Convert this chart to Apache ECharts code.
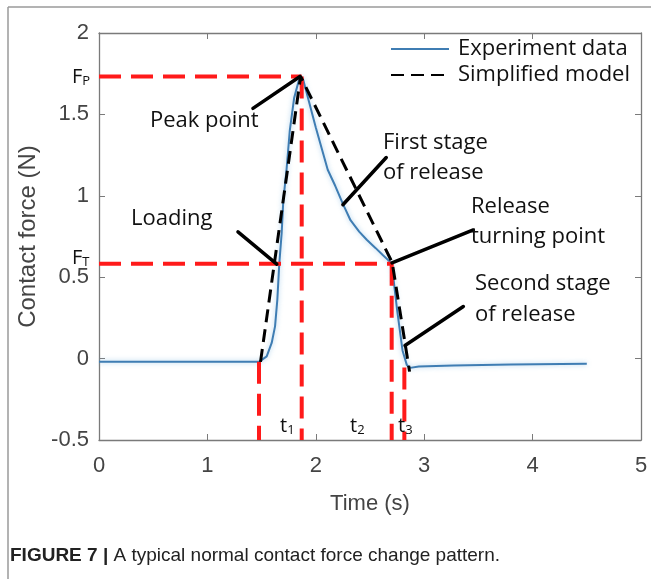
<!DOCTYPE html>
<html>
<head>
<meta charset="utf-8">
<script src="https://cdn.jsdelivr.net/npm/echarts@6/dist/echarts.min.js"></script>
<style>
  html, body { margin: 0; padding: 0; background: #fff; }
  #chart { width: 651px; height: 579px; }
</style>
</head>
<body>
<div id="chart"></div>
<script>
// measured experiment curve (time s, force N)
var expData = [
  [0, -0.02], [0.5, -0.02], [1.0, -0.02], [1.476, -0.02],
  [1.547, 0.014], [1.593, 0.096], [1.624, 0.198], [1.645, 0.361], [1.663, 0.582],
  [1.685, 0.77], [1.70, 0.97], [1.73, 1.16], [1.76, 1.40], [1.80, 1.60], [1.84, 1.70], [1.86, 1.733],
  [1.885, 1.71], [2.0, 1.42], [2.11, 1.16], [2.18, 1.06], [2.25, 0.95], [2.32, 0.85],
  [2.40, 0.78], [2.47, 0.73], [2.55, 0.68], [2.62, 0.635], [2.70, 0.585],
  [2.75, 0.30], [2.80, 0.05], [2.84, -0.04], [2.87, -0.057], [2.95, -0.048],
  [3.27, -0.043], [3.8, -0.036], [4.5, -0.032]
];
// simplified piecewise model
var modelData = [[1.49, -0.02], [1.86, 1.733], [2.705, 0.59], [2.865, -0.08]];

var forcePeak = 1.733;
var forceTurn = 0.582;
var tStart = 1.476, tPeak = 1.87, tTurn = 2.70, tEnd = 2.817;

// red dashed guides
var guideLines = [
  [[0, forcePeak], [tPeak, forcePeak]],
  [[tPeak, forcePeak], [tPeak, -0.5]],
  [[0, forceTurn], [tTurn, forceTurn]],
  [[tTurn, forceTurn], [tTurn, -0.5]],
  [[tStart, -0.02], [tStart, -0.5]],
  [[tEnd, -0.055], [tEnd, -0.5]]
];
// black leader lines of the annotations
var leaderLines = [
  [[1.42, 1.537], [1.854, 1.733]],
  [[1.282, 0.778], [1.64, 0.58]],
  [[2.25, 0.945], [2.65, 1.235]],
  [[2.703, 0.588], [3.453, 0.79]],
  [[2.823, 0.08], [3.361, 0.32]]
];

var xTicks = [0, 5, 1];
var yTicks = [-0.5, 2, 0.5];

var notes = [
  { text: 'Peak point', x: 150, y: 121 },
  { text: 'Loading', x: 131, y: 219 },
  { text: 'First stage', x: 383, y: 143 },
  { text: 'of release', x: 383, y: 173 },
  { text: 'Release', x: 471, y: 207 },
  { text: 'turning point', x: 471, y: 237 },
  { text: 'Second stage', x: 475, y: 284 },
  { text: 'of release', x: 475, y: 315 }
];
var subLabels = [
  { main: 'F', sub: 'P', x: 72, y: 77 },
  { main: 'F', sub: 'T', x: 72, y: 258 },
  { main: 't', sub: '1', x: 280, y: 426 },
  { main: 't', sub: '2', x: 350, y: 426 },
  { main: 't', sub: '3', x: 398, y: 426 }
];

var axisGray = '#7a7a7a';
var labelGray = '#444';
var noteFont = '"Open Sans", sans-serif';

var chart = echarts.init(document.getElementById('chart'), null, { renderer: 'canvas' });

function boxAxis(pos, show) {
  var vert = pos === 'left' || pos === 'right';
  var t = vert ? yTicks : xTicks;
  return {
    type: 'value', position: pos,
    min: t[0], max: t[1], interval: t[2],
    axisLine: { show: true, onZero: false, lineStyle: { color: axisGray, width: 1.3 } },
    axisTick: { show: true, inside: true, length: 6, lineStyle: { color: axisGray } },
    axisLabel: { show: show, color: labelGray, fontSize: 22, fontFamily: '"Liberation Sans", Arial', margin: vert ? 10 : 15 },
    splitLine: { show: false }
  };
}

var series = [];
guideLines.forEach(function (seg) {
  series.push({
    type: 'line', data: seg, symbol: 'none', silent: true, z: 3,
    lineStyle: { color: '#ff1a1a', width: 4, type: [22, 10] }
  });
});
leaderLines.forEach(function (seg) {
  series.push({
    type: 'line', data: seg, symbol: 'none', silent: true, z: 4,
    lineStyle: { color: '#000', width: 3.5, cap: 'round' }
  });
});
series.push({
  name: 'Experiment data', type: 'line', data: expData, symbol: 'none', z: 2,
  itemStyle: { color: '#3f7db3' },
  lineStyle: { color: '#3f7db3', width: 2, shadowColor: 'rgba(130,185,225,0.7)', shadowBlur: 5 }
});
series.push({
  name: 'Simplified model', type: 'line', data: modelData, symbol: 'none', z: 4,
  itemStyle: { color: '#000' },
  lineStyle: { color: '#000', width: 3, type: [13, 7] }
});

var graphics = [
  { type: 'line', shape: { x1: 8, y1: 7, x2: 651, y2: 7 }, style: { stroke: '#9a9a9a', lineWidth: 1.5 } },
  { type: 'line', shape: { x1: 8, y1: 7, x2: 8, y2: 579 }, style: { stroke: '#9a9a9a', lineWidth: 1.5 } },
  {
    type: 'text', left: 10, top: 546,
    style: {
      text: '{b|FIGURE 7 | }{n|A typical normal contact force change pattern.}',
      rich: {
        b: { fontFamily: '"Liberation Sans", Arial', fontWeight: 'bold', fontSize: 19, fill: '#222' },
        n: { fontFamily: '"Liberation Sans", Arial', fontSize: 19, fill: '#222' }
      }
    }
  }
];
notes.forEach(function (n) {
  graphics.push({
    type: 'text', x: n.x, y: n.y, z: 10,
    style: { text: n.text, fill: '#111', font: '22px ' + noteFont, align: 'left', verticalAlign: 'middle', textAlign: 'left', textVerticalAlign: 'middle' }
  });
});
subLabels.forEach(function (s) {
  graphics.push({
    type: 'text', x: s.x, y: s.y, z: 10,
    style: {
      text: '{m|' + s.main + '}{s|' + s.sub + '}',
      align: 'left', verticalAlign: 'middle', textAlign: 'left', textVerticalAlign: 'middle',
      rich: {
        m: { fontFamily: noteFont, fontSize: 20, fill: '#111', lineHeight: 22 },
        s: { fontFamily: noteFont, fontSize: 13, fill: '#111', lineHeight: 14, verticalAlign: 'bottom' }
      }
    }
  });
});

chart.setOption({
  animation: false,
  backgroundColor: '#fff',
  grid: { left: 99, top: 33, right: 10, bottom: 139 },
  legend: {
    data: ['Experiment data', 'Simplified model'],
    orient: 'vertical', right: 16, top: 33,
    itemWidth: 58, itemHeight: 14, itemGap: 4,
    itemStyle: { opacity: 0 },
    textStyle: { fontFamily: noteFont, fontSize: 22, color: '#111', lineHeight: 22, padding: [0, 0, 0, 4] }
  },
  xAxis: [
    Object.assign(boxAxis('bottom', true), {
      name: 'Time (s)', nameLocation: 'middle', nameGap: 53,
      nameTextStyle: { fontFamily: '"Liberation Sans", Arial', fontSize: 22, color: labelGray }
    }),
    boxAxis('top', false)
  ],
  yAxis: [
    Object.assign(boxAxis('left', true), {
      name: 'Contact force (N)', nameLocation: 'middle', nameGap: 48,
      nameTextStyle: { fontFamily: '"Liberation Sans", Arial', fontSize: 24, color: labelGray }
    }),
    boxAxis('right', false)
  ],
  series: series,
  graphic: graphics
});
</script>
</body>
</html>
